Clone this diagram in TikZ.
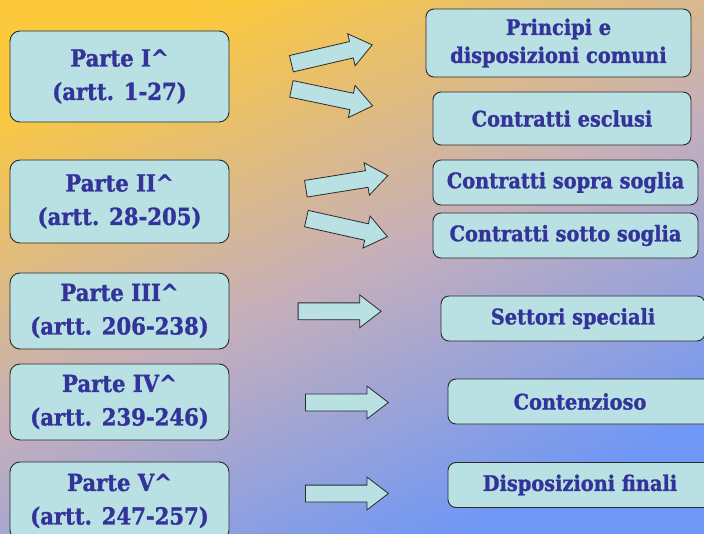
\documentclass[tikz,border=0pt]{standalone}
\usepackage{fontspec}
\setmainfont{DejaVu Serif Condensed}[BoldFeatures={FakeBold=1.2}]
\usepackage{tikz}
\usetikzlibrary{positioning, shapes.arrows}
\definecolor{boxfill}{HTML}{B9E0E3}
\definecolor{boxtext}{HTML}{333399}
\definecolor{boxline}{HTML}{2A2A2A}
\definecolor{bgtop}{HTML}{FCC93D}
\definecolor{bgmid}{HTML}{C6AFBA}
\definecolor{bgbot}{HTML}{6E97F6}

\begin{document}
\begin{tikzpicture}[x=1pt, y=-1pt,
        part/.style={draw=boxline, line width=0.9pt, fill=boxfill, rounded corners=10pt, align=center, text=boxtext,
            font=\fontsize{23.5}{33.5}\selectfont\bfseries, minimum width=219pt, inner sep=0pt},
        topic/.style={draw=boxline, line width=0.9pt, fill=boxfill, rounded corners=8pt, align=center, text=boxtext,
            font=\fontsize{21.5}{28}\selectfont\bfseries, minimum width=265pt, minimum height=45pt, inner sep=0pt},
        blockarr/.style={draw=boxline, line width=0.8pt, fill=boxfill, single arrow, minimum height=83pt, inner xsep=0pt, inner ysep=8pt,
            single arrow head extend=8pt, single arrow tip angle=75, anchor=tail}]
        \useasboundingbox (0,0) rectangle (704,534);
        \shade[top color=bgtop, bottom color=bgbot, middle color=bgmid, shading angle=24] (0,0) rectangle (704,534);

        \node[part, minimum height=91pt] (p1) at (119.5,76.5) {Parte I\textasciicircum\\(artt. 1-27)};
        \node[part, minimum height=83pt] (p2) at (119.5,201.5) {Parte II\textasciicircum\\(artt. 28-205)};
        \node[part, minimum height=76pt] (p3) at (119.5,311) {Parte III\textasciicircum\\(artt. 206-238)};
        \node[part, minimum height=76pt] (p4) at (119.5,402) {Parte IV\textasciicircum\\(artt. 239-246)};
        \node[part, minimum height=78pt] (p5) at (119.5,501) {Parte V\textasciicircum\\(artt. 247-257)};

        \node[topic, minimum height=68pt] (t1) at (558.5,43) {Principi e\\disposizioni comuni};
        \node[topic, minimum width=258pt, minimum height=53pt] (t2) at (562,118.5) {Contratti esclusi};
        \node[topic] (t3) at (565.5,182.5) {Contratti sopra soglia};
        \node[topic] (t4) at (565.5,235.5) {Contratti sotto soglia};
        \node[topic, minimum width=264pt] (t5) at (573,318.5) {Settori speciali};
        \node[topic, minimum width=264pt] (t6) at (580,401.5) {Contenzioso};
        \node[topic, minimum width=264pt] (t7) at (580,485) {Disposizioni finali};

        \node[blockarr, rotate=13.1] (a1) at (291,63.8) {};
        \node[blockarr, rotate=-11.8] (a2) at (291,88.8) {};
        \node[blockarr, rotate=9.1] (a3) at (305.5,188.8) {};
        \node[blockarr, rotate=-12.6] (a4) at (306,218.5) {};
        \node[blockarr] (a5) at (297.7,311.3) {};
        \node[blockarr] (a6) at (305,402.5) {};
        \node[blockarr] (a7) at (305,493.5) {};
    \end{tikzpicture}
\end{document}
